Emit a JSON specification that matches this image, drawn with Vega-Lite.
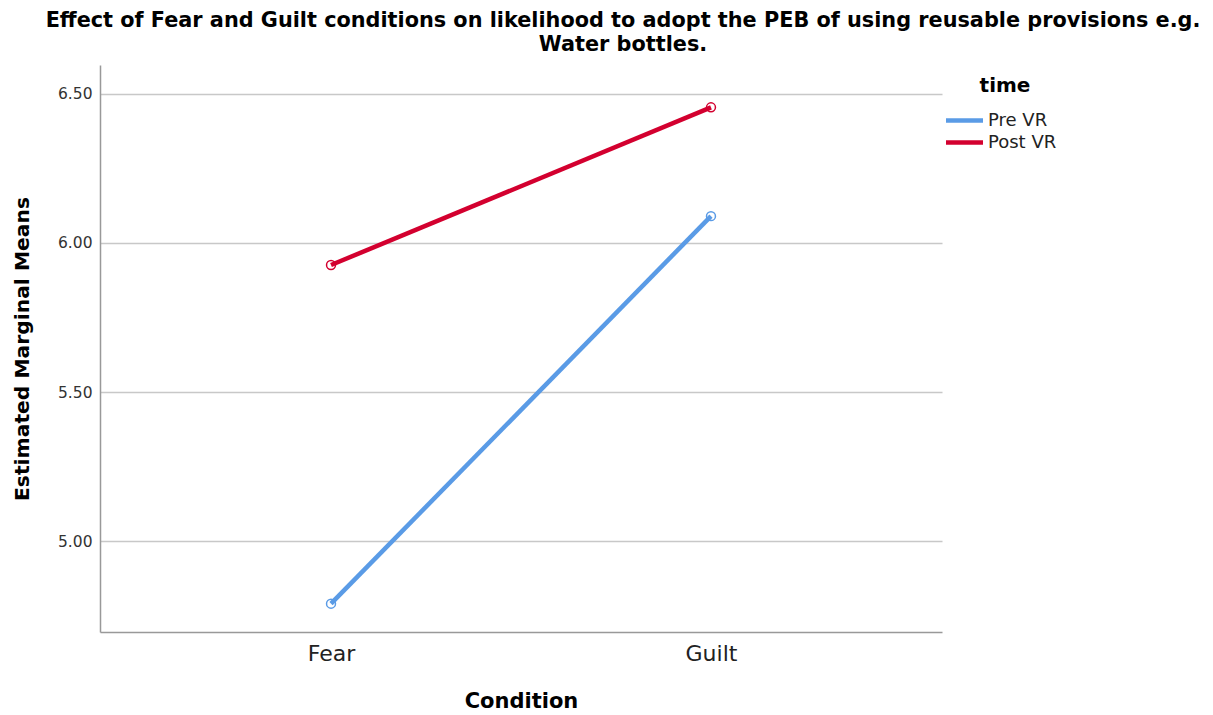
{
  "$schema": "https://vega.github.io/schema/vega-lite/v6.json",
  "autosize": {"type": "none"},
  "width": 842,
  "height": 567,
  "padding": {"left": 100, "top": 65, "right": 271, "bottom": 83},
  "background": "white",
  "title": {
    "text": ["Effect of Fear and Guilt conditions on likelihood to adopt the PEB of using reusable provisions e.g.", "Water bottles."],
    "font": "DejaVu Sans",
    "fontSize": 20.8,
    "fontWeight": "bold",
    "color": "black",
    "anchor": "middle",
    "dx": 102,
    "offset": 9,
    "lineHeight": 24
  },
  "data": {
    "values": [
      {"Condition": "Fear", "time": "Pre VR", "mean": 4.79},
      {"Condition": "Guilt", "time": "Pre VR", "mean": 6.09},
      {"Condition": "Fear", "time": "Post VR", "mean": 5.926},
      {"Condition": "Guilt", "time": "Post VR", "mean": 6.455}
    ]
  },
  "encoding": {
    "x": {
      "field": "Condition",
      "type": "nominal",
      "sort": ["Fear", "Guilt"],
      "scale": {"type": "point", "padding": 0.608},
      "axis": {
        "title": "Condition",
        "titleFont": "DejaVu Sans",
        "titleFontSize": 21,
        "titleFontWeight": "bold",
        "titleColor": "black",
        "titlePadding": 26,
        "labelFont": "DejaVu Sans",
        "labelFontSize": 22,
        "labelColor": "#222",
        "labelPadding": 11,
        "labelAngle": 0,
        "ticks": false,
        "grid": false,
        "domainColor": "#999",
        "domainWidth": 1.5
      }
    },
    "y": {
      "field": "mean",
      "type": "quantitative",
      "scale": {"domain": [4.695, 6.597], "nice": false, "zero": false},
      "axis": {
        "title": "Estimated Marginal Means",
        "titleFont": "DejaVu Sans",
        "titleFontSize": 20.3,
        "titleFontWeight": "bold",
        "titleColor": "black",
        "titlePadding": 25,
        "values": [5, 5.5, 6, 6.5],
        "format": ".2f",
        "labelFont": "DejaVu Sans",
        "labelFontSize": 15.5,
        "labelColor": "#333",
        "labelPadding": 8,
        "ticks": false,
        "grid": true,
        "gridColor": "#c8c8c8",
        "gridWidth": 1.5,
        "domainColor": "#999",
        "domainWidth": 1.5
      }
    },
    "color": {
      "field": "time",
      "type": "nominal",
      "sort": ["Pre VR", "Post VR"],
      "scale": {"domain": ["Pre VR", "Post VR"], "range": ["#5A9BE6", "#D3002F"]},
      "legend": {
        "title": "time",
        "orient": "none",
        "legendX": 853,
        "legendY": 11,
        "titleFont": "DejaVu Sans",
        "titleFontSize": 20,
        "titleFontWeight": "bold",
        "titleColor": "black",
        "titleAnchor": "middle",
        "titlePadding": 13,
        "labelFont": "DejaVu Sans",
        "labelFontSize": 18,
        "labelColor": "#222",
        "symbolType": "M-2,0H2",
        "symbolStrokeWidth": 4.5,
        "symbolSize": 342,
        "rowPadding": 1,
        "labelOffset": 12
      }
    }
  },
  "layer": [
    {"mark": {"type": "line", "strokeWidth": 4.5}},
    {"mark": {"type": "point", "filled": false, "size": 80, "strokeWidth": 1.5, "opacity": 1}}
  ],
  "config": {"view": {"stroke": null}}
}
